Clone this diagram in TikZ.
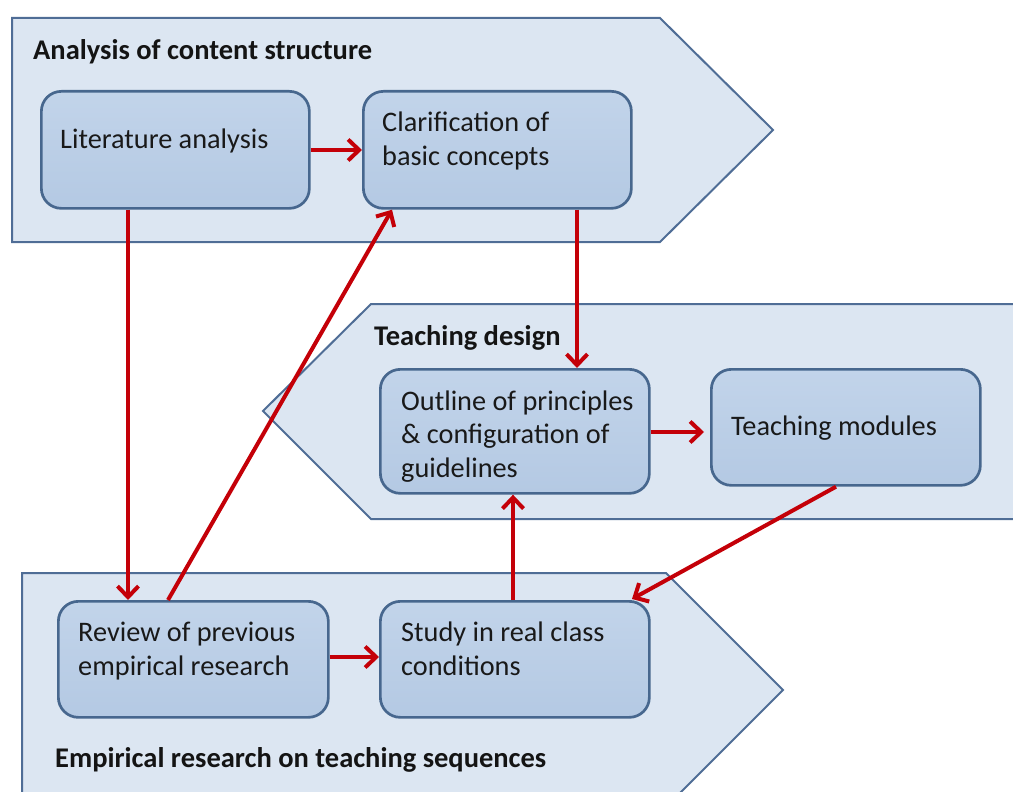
\documentclass[tikz,border=0pt]{standalone}
\usepackage{fontspec}
\setmainfont{Carlito}
\usetikzlibrary{arrows.meta}
\definecolor{panelfill}{HTML}{DCE6F2}
\definecolor{paneldraw}{HTML}{4F6D96}
\definecolor{boxtop}{HTML}{C2D4EA}
\definecolor{boxbot}{HTML}{B4C9E3}
\definecolor{boxdraw}{HTML}{47678E}
\definecolor{arr}{HTML}{C40008}
\tikzset{
  panel/.style={fill=panelfill, draw=paneldraw, line width=2pt, line join=miter},
  box/.style={draw=boxdraw, line width=2.7pt, rounded corners=20pt, top color=boxtop, bottom color=boxbot, anchor=north west, inner sep=0pt},
  txt/.style={anchor=base west, align=left, inner sep=0pt, font=\fontsize{28.3}{33.5}\selectfont, text=black!90},
  head/.style={anchor=base west, inner sep=0pt, font=\fontsize{28.5}{33}\selectfont\bfseries, text=black!92},
  flow/.style={draw=arr, line width=4pt, -{Straight Barb[length=11pt,width=21pt,line width=4pt]}},
}
\begin{document}
\begin{tikzpicture}[x=1pt,y=-1pt]
\useasboundingbox (0,0) rectangle (1013,792);
\clip (0,0) rectangle (1013,792);
% panels
\path[panel] (12,18) -- (660,18) -- (773,130) -- (660,242) -- (12,242) -- cycle;
\path[panel] (1030,304) -- (371,304) -- (263,411) -- (371,519) -- (1030,519);
\path[panel] (22,573) -- (666,573) -- (783,690) -- (673,800) -- (22,800) -- cycle;
% headers
\node[head] (h1) at (33,60) {Analysis of content structure};
\node[head] (h2) at (374,345) {Teaching design};
\node[head] (h3) at (55,767) {Empirical research on teaching sequences};
% boxes
\node[box, minimum width=268pt, minimum height=117pt] (lit) at (40,90) {};
\node[box, minimum width=268pt, minimum height=117pt] (clar) at (362,90) {};
\node[box, minimum width=269pt, minimum height=124pt] (out) at (379,368) {};
\node[box, minimum width=269pt, minimum height=116pt] (mod) at (710,368) {};
\node[box, minimum width=270pt, minimum height=116pt] (rev) at (57,600) {};
\node[box, minimum width=269pt, minimum height=116pt] (stu) at (379,600) {};
% texts (anchored at the baseline of the last line)
\node[txt] (litT) at (60,148) {Literature analysis};
\node[txt] (clarT) at (382,165) {Clarification of\\basic concepts};
\node[txt] (outT) at (401,477) {Outline of principles\\\& configuration of\\guidelines};
\node[txt] (modT) at (731,435) {Teaching modules};
\node[txt] (revT) at (78,675) {Review of previous\\empirical research};
\node[txt] (stuT) at (401,675) {Study in real class\\conditions};
% connectors
\draw[flow] (lit.east |- 0,150) -- (clar.west |- 0,150);
\draw[flow] (lit.south -| 128,0) -- (rev.north -| 128,0);
\draw[flow] (rev.north -| 168,0) -- (clar.south -| 392,0);
\draw[flow] (clar.south -| 577,0) -- (out.north -| 577,0);
\draw[flow] (out.east |- 0,432) -- ([xshift=-6pt]mod.west |- 0,432);
\draw[flow] (mod.south -| 836,0) -- (632,599);
\draw[flow] (stu.north -| 513,0) -- (out.south -| 513,0);
\draw[flow] (rev.east |- 0,657) -- (stu.west |- 0,657);
\end{tikzpicture}
\end{document}
